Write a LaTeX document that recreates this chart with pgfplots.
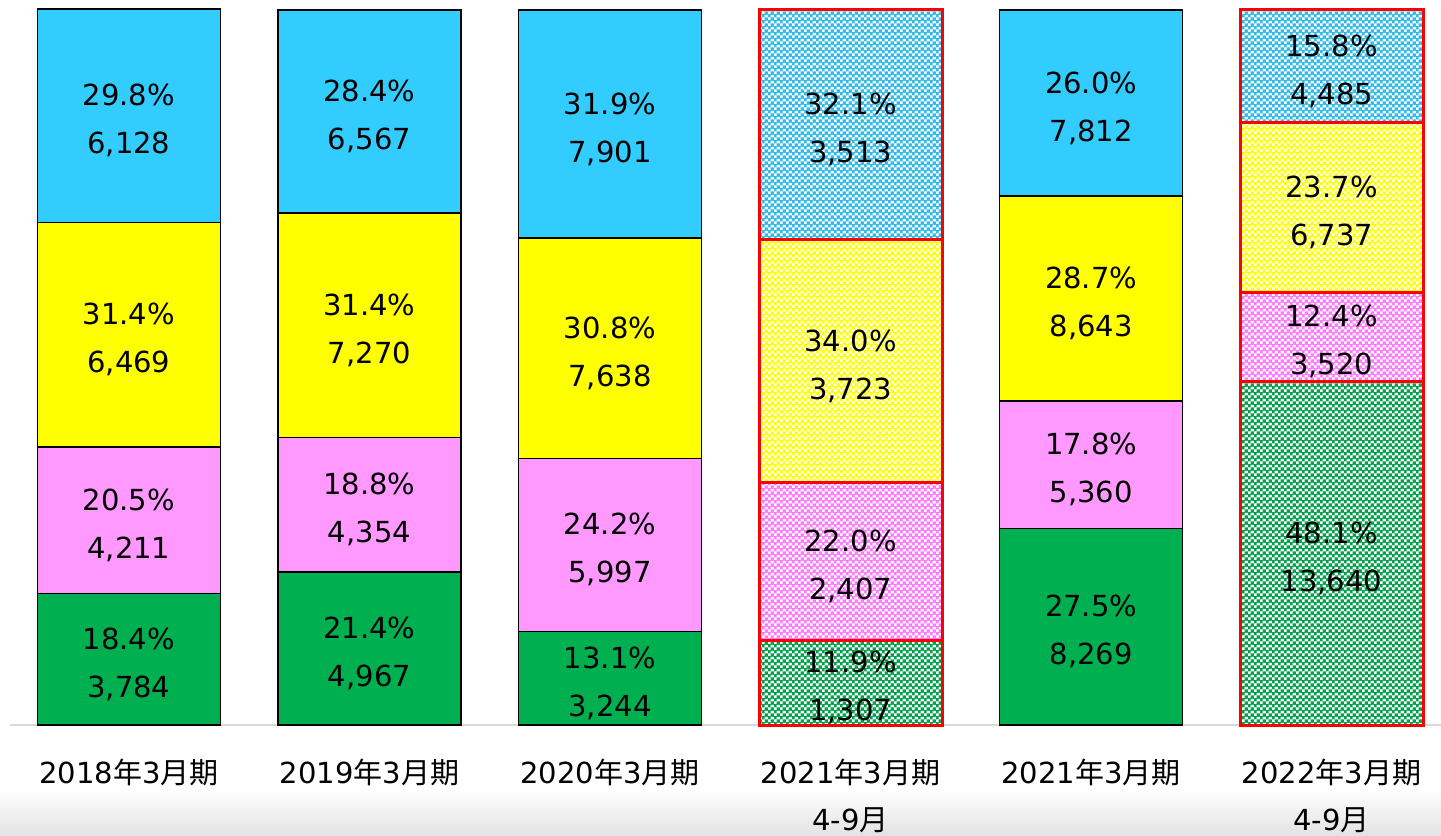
\documentclass[border=0pt]{standalone}
\usepackage{pgfplots}
\pgfplotsset{compat=1.18}
\usepackage{pgfplotstable}
\usepackage{fontspec}
\setmainfont{DejaVu Sans}
\newfontfamily\cjk{Noto Sans CJK JP}
\usetikzlibrary{patterns.meta}
\definecolor{cBlue}{HTML}{33CCFF}
\definecolor{cYel}{HTML}{FFFF00}
\definecolor{cPink}{HTML}{FF99FF}
\definecolor{cGreen}{HTML}{00B050}
\definecolor{cRed}{HTML}{FF0000}
\pgfdeclarepattern{
  name=wchecker,
  type=colored,
  bottom left=\pgfpoint{0pt}{0pt},
  top right=\pgfpoint{3pt}{3pt},
  tile size=\pgfpoint{3pt}{3pt},
  code={
    \pgfsetfillcolor{white}
    \pgfpathrectangle{\pgfpoint{0pt}{0pt}}{\pgfpoint{1.5pt}{1.5pt}}
    \pgfpathrectangle{\pgfpoint{1.5pt}{1.5pt}}{\pgfpoint{1.5pt}{1.5pt}}
    \pgfusepath{fill}
  }
}
\pgfplotstableread{
x g gv p pv y yv b bv
0 18.4 3784 20.5 4211 31.4 6469 29.8 6128
1 21.4 4967 18.8 4354 31.4 7270 28.4 6567
2 13.1 3244 24.2 5997 30.8 7638 31.9 7901
4 27.5 8269 17.8 5360 28.7 8643 26.0 7812
}\solid
\pgfplotstableread{
x g gv p pv y yv b bv
3 11.9 1307 22.0 2407 34.0 3723 32.1 3513
5 48.1 13640 12.4 3520 23.7 6737 15.8 4485
}\hatched
\pgfplotsset{
  base/.style={
    x=120.25pt, y=3.575pt,
    xmin=-0.536, xmax=5.455, ymin=0, ymax=101.4,
    ybar stacked, bar width=91.5pt, clip=false,
    /pgf/number format/assume math mode=true,
    nodes near coords={\pgfmathprintnumber[fixed,fixed zerofill,precision=1]{\h}\%\\\pgfmathprintnumber[fixed,precision=0,1000 sep={,}]{\v}},
    every node near coord/.append style={anchor=center, align=center,
      font=\fontsize{14.5}{24}\selectfont, text=black, yshift=-2.5pt},
  },
  seg/.style n args={2}{visualization depends on={\thisrow{#1} \as \h},
    visualization depends on={\thisrow{#2} \as \v}},
}
\begin{document}
\begin{tikzpicture}
\shade[top color=white, bottom color=black!11] (0pt,-55pt) rectangle (720.4pt,-32pt);
\begin{axis}[base,
  axis y line=none, axis x line*=bottom,
  x axis line style={draw=black!15, line width=1pt, -, shorten <=5pt},
  xtick={0,1,2,3,4,5}, major tick length=0pt,
  xticklabels={{2018{\cjk 年}3{\cjk 月期}},{2019{\cjk 年}3{\cjk 月期}},{2020{\cjk 年}3{\cjk 月期}},{2021{\cjk 年}3{\cjk 月期}\\4-9{\cjk 月}},{2021{\cjk 年}3{\cjk 月期}},{2022{\cjk 年}3{\cjk 月期}\\4-9{\cjk 月}}},
  xticklabel style={align=center, font=\fontsize{14.5}{23.5}\selectfont, yshift=-13.5pt},
  every axis plot/.append style={draw=black, line width=0.8pt},
]
\addplot[fill=cGreen, seg={g}{gv}] table[x=x, y=g]{\solid};
\addplot[fill=cPink, seg={p}{pv}] table[x=x, y=p]{\solid};
\addplot[fill=cYel, seg={y}{yv}] table[x=x, y=y]{\solid};
\addplot[fill=cBlue, seg={b}{bv}] table[x=x, y=b]{\solid};
\end{axis}
\begin{axis}[base, hide axis,
  every axis plot/.append style={draw=cRed, line width=1.5pt},
]
\addplot[fill=cGreen!92!black, postaction={pattern=wchecker}, seg={g}{gv}] table[x=x, y=g]{\hatched};
\addplot[fill=cPink!80!magenta, postaction={pattern=wchecker}, seg={p}{pv}] table[x=x, y=p]{\hatched};
\addplot[fill=cYel, postaction={pattern=wchecker}, seg={y}{yv}] table[x=x, y=y]{\hatched};
\addplot[fill=cBlue!92!black, postaction={pattern=wchecker}, seg={b}{bv}] table[x=x, y=b]{\hatched};
\end{axis}
\pgfresetboundingbox
\useasboundingbox (0pt,-55pt) rectangle (720.4pt,362.5pt);
\end{tikzpicture}
\end{document}
